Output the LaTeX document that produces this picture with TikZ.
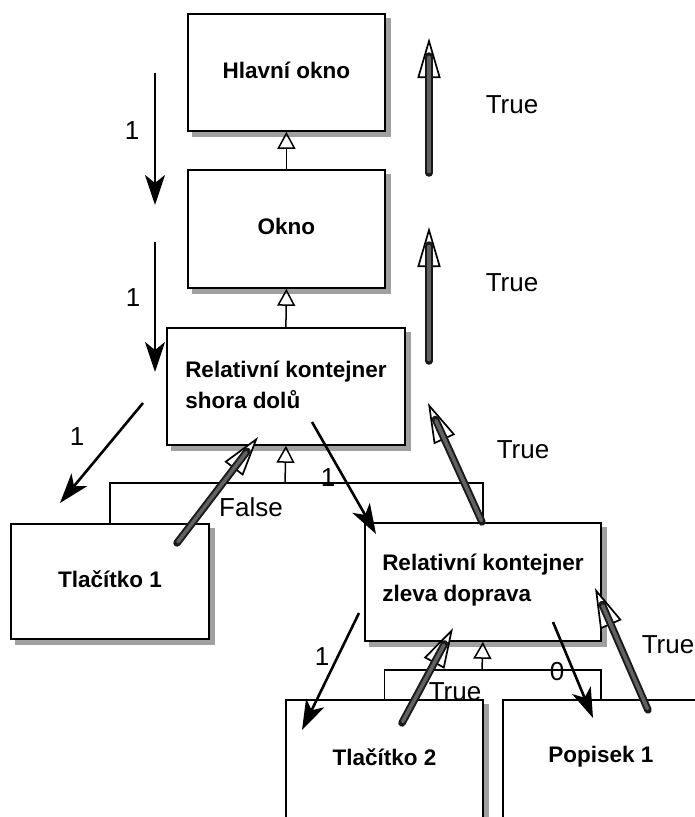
\documentclass[tikz,border=0pt]{standalone}
\usepackage{fontspec}
\setmainfont{Liberation Sans}
\usetikzlibrary{arrows.meta}

\definecolor{shadowgray}{RGB}{160,160,160}

\tikzset{
  cls/.style={draw=black, line width=1.8pt, fill=white, anchor=north west, inner sep=0pt,
    align=left, font=\bfseries\fontsize{22.5}{31}\selectfont},
  boxshadow/.style={fill=shadowgray, draw=shadowgray, line width=0.4pt},
  lbl/.style={font=\fontsize{26}{30}\selectfont, inner sep=0pt},
  inh/.style={line width=1.5pt, -{Triangle[open, length=17pt, width=18pt, line width=1.5pt]}},
  bar/.style={line width=1.5pt},
  call/.style={line width=2.6pt, -{Stealth[length=30pt, width=20pt, inset=8pt]}},
  ghead/.style={line width=1.5pt, draw=black,
    -{Triangle[length=40pt, width=23pt, fill=white, line width=1.7pt]}},
  gshaft/.style={line width=7.5pt, draw=black!90, line cap=round, shorten >=18pt},
  gcore/.style={line width=3.6pt, draw=black!62, line cap=round, shorten >=19.5pt, shorten <=1.5pt},
}

% a class box with its shadow: name, left, top, width, height, text
\newcommand{\classbox}[6]{%
  \filldraw[boxshadow] (#2+5,#3+5) rectangle ++(#4+1,#5+1);
  \node[cls, minimum width=#4pt, minimum height=#5pt] (#1) at (#2,#3) {};
  \node[cls, draw=none, fill=none, anchor=center] at ([yshift=2pt]#1.center) {#6};
}

\begin{document}
\begin{tikzpicture}[x={(1pt,0)}, y={(0,-1pt)}]
  \clip (0,0) rectangle (695,817);
  \fill[white] (0,0) rectangle (695,817);

  % classes
  \classbox{main}{187}{13}{197}{117}{Hlavní okno}
  \classbox{okno}{187}{169}{197}{118}{Okno}
  \classbox{rksd}{166}{327}{238}{117}{Relativní kontejner\\shora dolů}
  \classbox{tl1}{10}{523}{198}{115}{Tlačítko 1}
  \classbox{rkzd}{364}{522}{236}{118}{Relativní kontejner\\zleva doprava}
  \classbox{tl2}{285}{699}{197}{118}{Tlačítko 2}
  \classbox{pop1}{502}{699}{196}{118}{Popisek 1}

  % inheritance
  \draw[inh] (okno.north) -- (main.south);
  \draw[inh] (rksd.north) -- (okno.south);
  \coordinate (j1) at (285,483);
  \coordinate (j2) at (482,670);
  \draw[bar] (tl1.north) |- (j1) -| (rkzd.north);
  \draw[inh] (j1) -- (rksd.south);
  \draw[bar] (tl2.north) |- (j2) -| (pop1.north);
  \draw[inh] (j2) -- (rkzd.south);

  % calls going down
  \coordinate (c1a) at (155,73);   \coordinate (c1b) at (155,205);
  \coordinate (c2a) at (155,242);  \coordinate (c2b) at (155,372);
  \coordinate (c3a) at (143,403);  \coordinate (c3b) at (60,503);
  \coordinate (c4a) at (312,422);  \coordinate (c4b) at (376,534);
  \coordinate (c5a) at (359,613);  \coordinate (c5b) at (302,730);
  \coordinate (c6a) at (553,622);  \coordinate (c6b) at (593,718);
  \draw[call] (c1a) -- (c1b);
  \draw[call] (c2a) -- (c2b);
  \draw[call] (c3a) -- (c3b);
  \draw[call] (c4a) -- (c4b);
  \draw[call] (c5a) -- (c5b);
  \draw[call] (c6a) -- (c6b);
  \node[lbl] (l1) at (132,131) {1};
  \node[lbl] (l2) at (133,298) {1};
  \node[lbl] (l3) at (77,437) {1};
  \node[lbl] (l4) at (328,478) {1};
  \node[lbl] (l5) at (322,657) {1};
  \node[lbl] (l6) at (557,672) {0};

  % results going up
  \coordinate (r1a) at (429,173);  \coordinate (r1b) at (429,38);
  \coordinate (r2a) at (429,361);  \coordinate (r2b) at (429,227);
  \coordinate (r3a) at (482,522);  \coordinate (r3b) at (428,403);
  \coordinate (r4a) at (177,543);  \coordinate (r4b) at (258,437);
  \coordinate (r5a) at (402,723);  \coordinate (r5b) at (453,628);
  \coordinate (r6a) at (648,710);  \coordinate (r6b) at (595,588);
  \foreach \a/\b in {r1a/r1b, r2a/r2b, r3a/r3b, r4a/r4b, r5a/r5b, r6a/r6b} {
    \draw[ghead] (\a) -- (\b);
    \draw[gshaft] (\a) -- (\b);
    \draw[gcore] (\a) -- (\b);
  }
  \node[lbl] (t1) at (512,105) {True};
  \node[lbl] (t2) at (512,283) {True};
  \node[lbl] (t3) at (523,450) {True};
  \node[lbl] (t4) at (251,507) {False};
  \node[lbl] (t5) at (455,692) {True};
  \node[lbl] (t6) at (668,645) {True};
\end{tikzpicture}
\end{document}
